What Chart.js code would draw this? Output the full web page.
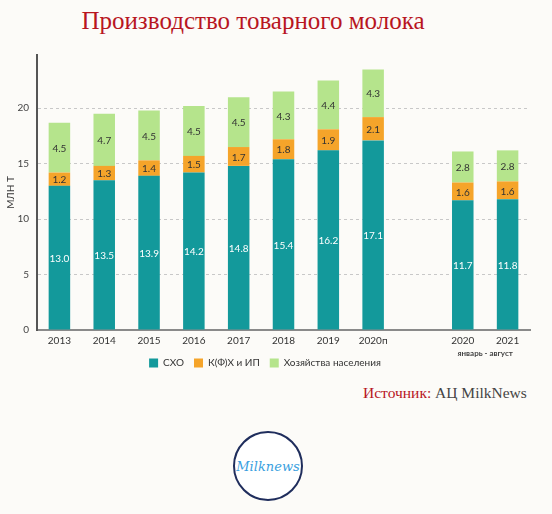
<!DOCTYPE html>
<html>
<head>
<meta charset="utf-8">
<script src="https://cdn.jsdelivr.net/npm/chart.js@4/dist/chart.umd.min.js"></script>
<style>
  body { margin: 0; background: #fcfbf8; width: 552px; height: 514px; overflow: hidden; position: relative; }
  #title { position: absolute; left: 0; width: 506px; top: 7px; text-align: center;
           font-family: "Liberation Serif", "DejaVu Serif", serif; font-size: 25px; color: #b8161f; }
  #box { position: absolute; left: 0; top: 0; width: 552px; height: 378px; }
  #source { position: absolute; left: 363px; top: 384px; font-family: "Liberation Serif", serif;
            font-size: 15.5px; color: #444; white-space: nowrap; }
  #source span { color: #b8161f; }
  #logo { position: absolute; left: 233px; top: 431px; width: 70px; height: 70px; border-radius: 50%;
          border: 2px solid #1f2d5c; background: #fff; box-sizing: border-box;
          display: flex; align-items: center; justify-content: center;
          font-family: "DejaVu Serif", serif; font-style: italic; font-size: 13px; color: #3a9fe0; }
</style>
</head>
<body>
<div id="title">Производство товарного молока</div>
<div id="box"><canvas id="myChart"></canvas></div>
<div id="source"><span>Источник:</span> АЦ MilkNews</div>
<div id="logo">Milknews</div>
<script>
const years = ['2013', '2014', '2015', '2016', '2017', '2018', '2019', '2020п', '', '2020', '2021'];
const sho = [13.0, 13.5, 13.9, 14.2, 14.8, 15.4, 16.2, 17.1, null, 11.7, 11.8];
const kfh = [1.2, 1.3, 1.4, 1.5, 1.7, 1.8, 1.9, 2.1, null, 1.6, 1.6];
const households = [4.5, 4.7, 4.5, 4.5, 4.5, 4.3, 4.4, 4.3, null, 2.8, 2.8];
const yTicks = [0, 5, 10, 15, 20];
const periodLabel = 'январь - август';

const fontFamily = 'Lato, "Open Sans", sans-serif';

// value labels in the middle of each segment
const segmentLabels = {
    id: 'segmentLabels',
    afterDatasetsDraw(chart) {
        const ctx = chart.ctx;
        ctx.save();
        ctx.font = '10px ' + fontFamily;
        ctx.textAlign = 'center';
        ctx.textBaseline = 'middle';
        chart.data.datasets.forEach((ds, i) => {
            const meta = chart.getDatasetMeta(i);
            meta.data.forEach((bar, j) => {
                const v = ds.data[j];
                if (v === null) return;
                ctx.fillStyle = i === 0 ? '#ffffff' : '#333333';
                ctx.fillText(v.toFixed(1), bar.x, (bar.y + bar.base) / 2 + 1);
            });
        });
        ctx.restore();
    }
};

// "январь - август" under the last two bars
const periodNote = {
    id: 'periodNote',
    afterDraw(chart) {
        const x = chart.scales.x;
        const cx = (x.getPixelForValue(9) + x.getPixelForValue(10)) / 2;
        const ctx = chart.ctx;
        ctx.save();
        ctx.font = 'bold 8px ' + fontFamily;
        ctx.fillStyle = '#444';
        ctx.textAlign = 'center';
        ctx.textBaseline = 'middle';
        ctx.fillText(periodLabel, cx, 353);
        ctx.restore();
    }
};

const ctx = document.getElementById('myChart').getContext('2d');
let myChart = new Chart(ctx, {
    type: 'bar',
    data: {
        labels: years,
        datasets: [{
            label: 'СХО',
            data: sho,
            backgroundColor: '#13999b'
        }, {
            label: 'К(Ф)Х и ИП',
            data: kfh,
            backgroundColor: '#f5a42a'
        }, {
            label: 'Хозяйства населения',
            data: households,
            backgroundColor: '#b5e48c'
        }]
    },
    options: {
        responsive: true,
        maintainAspectRatio: false,
        animation: false,
        datasets: {
            bar: { barPercentage: 0.96, categoryPercentage: 0.5 }
        },
        layout: { padding: { top: 55, right: 22, left: 0, bottom: 0 } },
        scales: {
            x: {
                stacked: true,
                grid: { display: false, drawTicks: false },
                border: { color: '#8a8a8a', width: 2 },
                ticks: { color: '#333', font: { family: fontFamily, size: 10 }, padding: 5, autoSkip: false, maxRotation: 0 },
                afterFit(scale) { scale.height = 18; }
            },
            y: {
                stacked: true,
                min: 0,
                max: 24.8,
                afterBuildTicks(axis) {
                    axis.ticks = yTicks.map(v => ({ value: v }));
                },
                grid: {
                    color: ctx => ctx.tick && ctx.tick.value === 0 ? 'rgba(0,0,0,0)' : '#c8c8c8',
                    drawTicks: false
                },
                border: { color: '#555', width: 2, dash: [3, 3] },
                ticks: { color: '#444', font: { family: fontFamily, size: 10 }, padding: 8 },
                title: { display: true, text: 'МЛН Т', color: '#333', font: { family: fontFamily, size: 10 }, padding: { top: 5, bottom: 2 } },
                afterFit(scale) { scale.width = 37; }
            }
        },
        plugins: {
            legend: {
                position: 'bottom',
                labels: {
                    boxWidth: 9,
                    boxHeight: 9,
                    padding: 10,
                    color: '#333',
                    font: { family: fontFamily, size: 10 }
                }
            },
            tooltip: { enabled: false }
        }
    },
    plugins: [segmentLabels, periodNote]
});
</script>
</body>
</html>
